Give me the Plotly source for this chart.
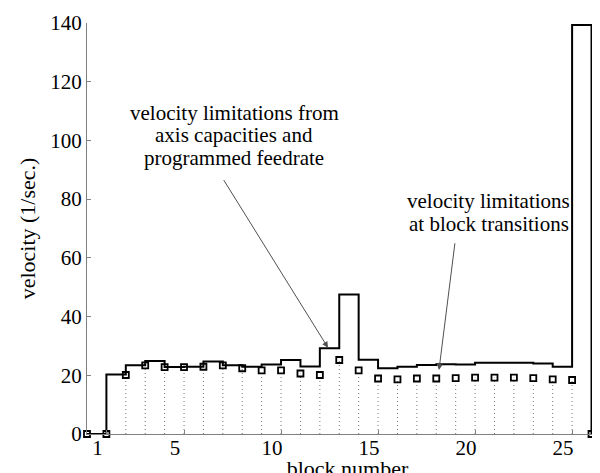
import plotly.graph_objects as go

# step velocity per block interval [i, i+1]
block_edges = list(range(0, 28))
block_velocity = [0, 20.3, 23.4, 24.9, 22.8, 22.9, 24.7, 23.4, 22.9, 23.7,
                  25.2, 23.0, 29.2, 47.5, 25.3, 22.4, 22.9, 23.5, 23.8, 23.7,
                  24.3, 24.3, 24.3, 24.0, 22.9, 139.3, 0]

# velocity limits at block transitions (squares)
trans_x = list(range(0, 27))
trans_v = [0, 0, 20.1, 23.4, 22.8, 22.8, 22.9, 23.4, 22.4, 21.7,
           21.7, 20.6, 20.1, 25.2, 21.7, 18.9, 18.6, 18.9, 18.9, 19.0,
           19.2, 19.2, 19.2, 19.0, 18.6, 18.4, 0]

x_ticks = [1, 5, 10, 15, 20, 25]
y_ticks = [0, 20, 40, 60, 80, 100, 120, 140]

FONT = "Liberation Serif"

# dotted drop lines from the transition markers
drop_x, drop_y = [], []
for xv, yv in zip(trans_x, trans_v):
    if yv > 0:
        drop_x += [xv, xv, None]
        drop_y += [0, yv, None]

fig = go.Figure()
fig.add_trace(go.Scatter(
    x=drop_x, y=drop_y, mode="lines",
    line=dict(color="#777777", width=1, dash="1px,3px"),
    hoverinfo="skip", showlegend=False,
))
fig.add_trace(go.Scatter(
    x=block_edges, y=block_velocity + [block_velocity[-1]],
    mode="lines", line=dict(color="black", width=2, shape="hv"),
    showlegend=False, cliponaxis=False,
))
fig.add_trace(go.Scatter(
    x=trans_x, y=trans_v, mode="markers",
    marker=dict(symbol="square-open", size=6, color="black", line=dict(width=1.8)),
    showlegend=False, cliponaxis=False,
))

txt = dict(family=FONT, size=21, color="black")
lines1 = ["velocity limitations from", "axis capacities and", "programmed feedrate"]
for i, s in enumerate(lines1):
    fig.add_annotation(x=7.6, y=109.5 - i * 7.8, text=s, showarrow=False,
                       xref="x", yref="y", font=txt)
lines2 = ["velocity limitations", "at block transitions"]
for i, s in enumerate(lines2):
    fig.add_annotation(x=20.7, y=79.5 - i * 7.8, text=s, showarrow=False,
                       xref="x", yref="y", font=txt)

arrow = dict(showarrow=True, text="", arrowhead=2, arrowsize=1.2, arrowwidth=1,
             arrowcolor="#505050", xref="x", yref="y", axref="x", ayref="y")
fig.add_annotation(x=12.42, y=29.4, ax=7.0, ay=87.0, **arrow)
fig.add_annotation(x=18.14, y=21.8, ax=18.97, ay=65.5, **arrow)

fig.update_layout(
    width=600, height=473,
    margin=dict(l=79, r=0, t=15, b=47),
    plot_bgcolor="white", paper_bgcolor="white",
    font=dict(family=FONT, size=21, color="black"),
)
fig.update_xaxes(
    range=[0, 26.85], tickvals=x_ticks, ticks="inside", ticklen=4,
    tickcolor="#808080", showline=True, linecolor="#808080", linewidth=1,
    showgrid=False, zeroline=False, ticklabelshift=-9, ticklabelstandoff=-5,
    title=dict(text="block number", font=dict(family=FONT, size=22), standoff=0),
)
fig.update_yaxes(
    range=[0, 140], tickvals=y_ticks, ticks="inside", ticklen=4,
    tickcolor="#808080", showline=True, linecolor="#808080", linewidth=1,
    showgrid=False, zeroline=False,
    title=dict(text="velocity (1/sec.)", font=dict(family=FONT, size=22), standoff=8),
)

fig.write_html("out.html")
